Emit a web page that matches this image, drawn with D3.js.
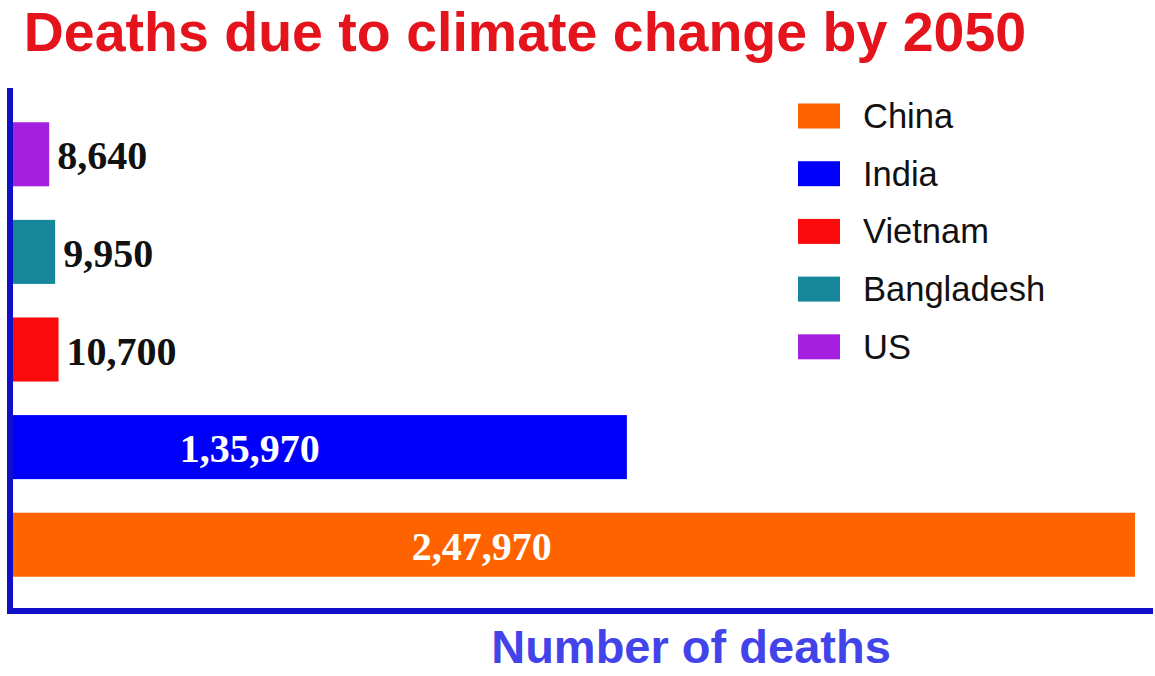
<!DOCTYPE html>
<html>
<head>
<meta charset="utf-8">
<script src="https://cdn.jsdelivr.net/npm/d3@7"></script>
<style>
  body { margin: 0; background: #fff; }
  svg { display: block; }
</style>
</head>
<body>
<svg id="chart" width="1155" height="676"></svg>
<script>
// Data
const countries = ["US", "Bangladesh", "Vietnam", "India", "China"];
const deaths = [8640, 9950, 10700, 135970, 247970];
const valueLabels = ["8,640", "9,950", "10,700", "1,35,970", "2,47,970"];
const barColors = ["#a41fe0", "#16879b", "#fa0a0a", "#0000fa", "#ff6300"];
const legendOrder = ["China", "India", "Vietnam", "Bangladesh", "US"];

const svg = d3.select("#chart"),
  width = +svg.attr("width"),
  height = +svg.attr("height");

const axisX = 10,
  axisY = 611;

const rows = countries.map((c, i) => ({
  country: c,
  value: deaths[i],
  label: valueLabels[i],
  color: barColors[i],
}));

const color = d3.scaleOrdinal().domain(countries).range(barColors);

// Scales
const x = d3.scaleLinear().domain([0, 247970]).range([axisX, 1135]);

const y = d3
  .scaleBand()
  .domain(countries)
  .range([88, axisY])
  .paddingInner(0.344)
  .paddingOuter(0.351);

// Title
svg
  .append("text")
  .attr("x", 525)
  .attr("y", 51)
  .attr("text-anchor", "middle")
  .style("font-family", "Liberation Sans, Arial, sans-serif")
  .style("font-weight", "bold")
  .style("font-size", "55.5px")
  .style("fill", "#e5141c")
  .text("Deaths due to climate change by 2050");

// Bars
svg
  .append("g")
  .selectAll("rect")
  .data(rows)
  .join("rect")
  .attr("x", x(0))
  .attr("y", (d) => y(d.country))
  .attr("width", (d) => x(d.value) - x(0))
  .attr("height", y.bandwidth())
  .attr("fill", (d) => d.color);

// Value labels - small bars outside, big ones inside
const big = (d) => x(d.value) - x(0) > 300;

svg
  .append("g")
  .selectAll("text")
  .data(rows)
  .join("text")
  .attr("x", (d) => (big(d) ? x(d.value * 0.4567) - 42 : x(d.value) + 8))
  .attr("y", (d) => y(d.country) + y.bandwidth() / 2 + 15)
  .attr("text-anchor", (d) => (big(d) ? "middle" : "start"))
  .style("font-family", "Liberation Serif, Times New Roman, serif")
  .style("font-weight", "bold")
  .style("font-size", "40px")
  .style("fill", (d) => (big(d) ? "#fff" : "#111"))
  .text((d) => d.label);

// Axes (plain lines, no ticks)
svg
  .append("line")
  .attr("x1", axisX)
  .attr("x2", axisX)
  .attr("y1", 88)
  .attr("y2", axisY + 3)
  .attr("stroke", "#1010c8")
  .attr("stroke-width", 6);

svg
  .append("line")
  .attr("x1", axisX - 3)
  .attr("x2", 1153)
  .attr("y1", axisY)
  .attr("y2", axisY)
  .attr("stroke", "#1010c8")
  .attr("stroke-width", 6);

// X axis title
svg
  .append("text")
  .attr("x", 691)
  .attr("y", 663)
  .attr("text-anchor", "middle")
  .style("font-family", "Liberation Sans, Arial, sans-serif")
  .style("font-weight", "bold")
  .style("font-size", "47px")
  .style("fill", "#4343ea")
  .text("Number of deaths");

// Legend
const legend = svg
  .append("g")
  .selectAll("g")
  .data(legendOrder)
  .join("g")
  .attr("transform", (d, i) => `translate(798, ${116 + i * 57.7})`);

legend
  .append("rect")
  .attr("x", 0)
  .attr("y", -12.5)
  .attr("width", 42)
  .attr("height", 25)
  .attr("fill", (d) => color(d));

legend
  .append("text")
  .attr("x", 65)
  .attr("y", 12)
  .style("font-family", "Liberation Sans, Arial, sans-serif")
  .style("font-size", "34.5px")
  .style("fill", "#111")
  .text((d) => d);
</script>
</body>
</html>
